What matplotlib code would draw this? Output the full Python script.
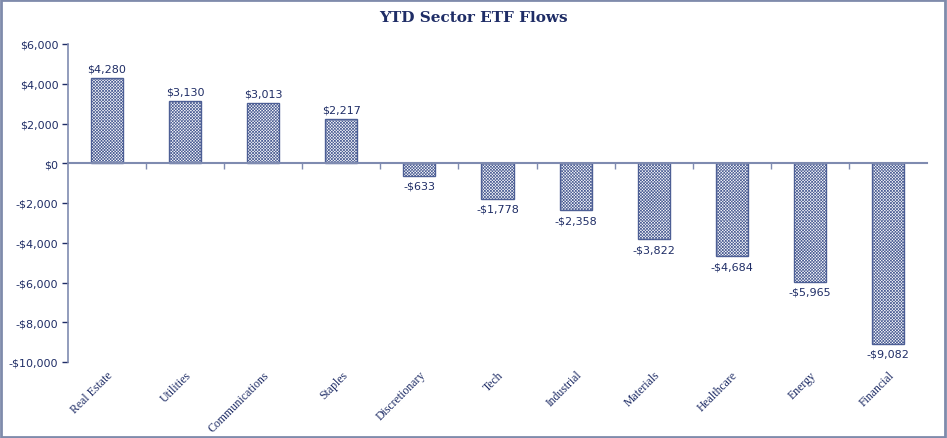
import numpy as np
import matplotlib
matplotlib.use("Agg")
import matplotlib.pyplot as plt
from matplotlib.ticker import FuncFormatter, FixedLocator

sectors = ['Real Estate', 'Utilities', 'Communications', 'Staples', 'Discretionary',
           'Tech', 'Industrial', 'Materials', 'Healthcare', 'Energy', 'Financial']
flows = [4280, 3130, 3013, 2217, -633, -1778, -2358, -3822, -4684, -5965, -9082]

navy = '#1f2d66'
edge = '#4d5f95'
plt.rcParams['hatch.color'] = '#7080b0'
plt.rcParams['hatch.linewidth'] = 0.5

fig = plt.figure(figsize=(9.47, 4.39), dpi=100)
ax = fig.add_axes([68/947, 1 - 363/439, 859/947, 318/439])

x = np.arange(len(sectors))
ax.bar(x, flows, width=0.41, color='white', edgecolor=edge, linewidth=1.0, hatch='xxxxxxxxxxx')

ax.set_xlim(-0.5, len(sectors) - 0.5)
ax.set_ylim(-10000, 6000)
ax.set_yticks(np.arange(-10000, 6001, 2000))

def money(v, pos=None):
    return ('-$' if v < 0 else '$') + f'{abs(v):,.0f}'

ax.yaxis.set_major_formatter(FuncFormatter(money))
ax.tick_params(axis='y', labelsize=8, colors=navy, length=4, width=1, direction='out', pad=3)
for lbl in ax.get_yticklabels():
    lbl.set_family('DejaVu Sans')

# x-axis sits at zero with ticks between categories
ax.spines['bottom'].set_position(('data', 0))
ax.spines['bottom'].set_color('#7f8bb0')
ax.spines['bottom'].set_linewidth(1.5)
ax.spines['left'].set_color('#7f8bb0')
ax.spines['left'].set_linewidth(1.2)
ax.spines['top'].set_visible(False)
ax.spines['right'].set_visible(False)
ax.xaxis.set_major_locator(FixedLocator(np.arange(0.5, len(sectors) - 0.5, 1)))
ax.tick_params(axis='x', length=4, width=1, colors='#7f8bb0', direction='out', labelbottom=False)

for xi, name in zip(x, sectors):
    ax.text(xi + 0.0, -0.02, name, transform=ax.get_xaxis_transform(), rotation=45,
            rotation_mode='anchor', ha='right', va='top', fontsize=8.5,
            color=navy, family='Liberation Serif')

for xi, v in zip(x, flows):
    off = 250 if v > 0 else -250
    ax.text(xi, v + off, money(v), ha='center', va='bottom' if v > 0 else 'top',
            fontsize=8, color=navy, family='DejaVu Sans')

fig.text(0.5, 1 - 18/439, 'YTD Sector ETF Flows', ha='center', va='center',
         fontsize=11, fontweight='bold', color=navy, family='DejaVu Serif')

fig.patches.append(plt.Rectangle((0.001, 0.002), 0.997, 0.995, transform=fig.transFigure,
                                 fill=False, edgecolor='#7f8bab', linewidth=2))

fig.savefig('out.png', dpi=100)
